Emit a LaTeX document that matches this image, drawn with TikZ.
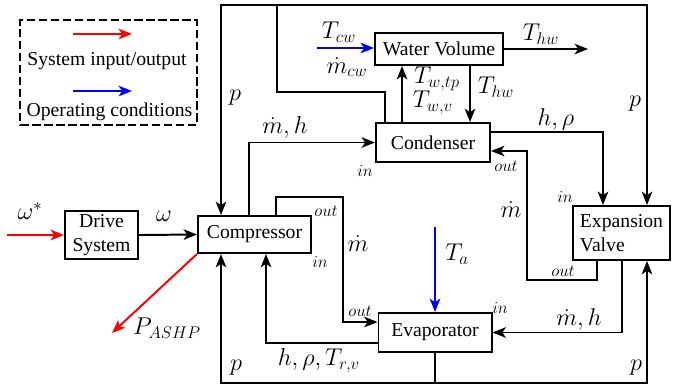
\documentclass[tikz,border=0pt]{standalone}
\usepackage{fontspec}
\setmainfont{Liberation Serif}
\usetikzlibrary{arrows.meta,positioning,calc}

\begin{document}
\begin{tikzpicture}[
  x=0.025cm, y=-0.025cm,
  every node/.style={font=\fontsize{14}{17}\selectfont},
  blockbox/.style={draw,line width=1.4pt,inner sep=0pt,align=center},
  conn/.style={-{Stealth[length=9.5pt,width=7.5pt,inset=2.5pt]},line width=1.4pt},
  wire/.style={line width=1.4pt},
  sysarr/.style={conn,red},
  oparr/.style={conn,blue},
  sig/.style={font=\fontsize{17.28}{20}\selectfont},
  port/.style={font=\fontsize{12}{14}\selectfont},
]
  \useasboundingbox (0,0) rectangle (675,389);

  % Legend
  \node[draw,line width=1.4pt,dash pattern=on 6pt off 2.5pt,
        minimum width=4.4cm,minimum height=2.625cm] (legend) at (108.5,72.5) {};
  \coordinate (lgred) at (73,34);
  \coordinate (lgblue) at (73,91);
  \draw[sysarr] (lgred) -- ++(59,0);
  \draw[oparr] (lgblue) -- ++(59,0);
  \node (lgsys) at (107,61) {System input/output};
  \node (lgop) at (109.5,112) {Operating conditions};

  % Blocks
  \node[blockbox,minimum width=1.825cm,minimum height=1.2cm] (drive) at (101.5,235) {Drive\\System};
  \node[blockbox,minimum width=2.825cm,minimum height=0.925cm] (comp) at (254.5,234.5) {Compressor};
  \node[blockbox,minimum width=3.2cm,minimum height=0.8cm] (wv) at (439,49) {Water Volume};
  \node[blockbox,minimum width=2.85cm,minimum height=0.975cm] (cond) at (433,142.5) {Condenser};
  \node[blockbox,minimum width=2.825cm,minimum height=0.975cm] (ev) at (435,332.5) {Evaporator};
  \node[blockbox,align=left,minimum width=2.425cm,minimum height=1.35cm] (valve) at (621.5,233) {Expansion\\Valve};

  % Drive and power
  \coordinate (wref) at (7,235);
  \draw[sysarr] (wref) -- (drive.west);
  \node[sig] (wstar) at (30,211) {$\omega^{*}$};
  \draw[conn] (drive.east) -- (comp.west);
  \node[sig] (wlbl) at (164,216) {$\omega$};
  \coordinate (pout) at (112,333);
  \draw[sysarr] (comp.south west) -- (pout);
  \node[sig] (plbl) at (167,328) {$P_{ASHP}$};

  % Pressure feedback, top
  \coordinate (ptop) at (277,5);
  \draw[wire] ($(cond.north west)+(10,0)$) -- ++(0,-30) -| (ptop);
  \draw[conn] (ptop) -| ($(comp.north west)+(24,0)$);
  \draw[conn] (ptop) -| ($(valve.north west)+(75,0)$);
  \node[sig] (ptl) at (235,98) {$p$};
  \node[sig] (ptr) at (635,104) {$p$};

  % Compressor to condenser
  \draw[conn] ($(comp.north west)+(52,0)$) |- (cond.west);
  \node[sig] (mhtop) at (285,127) {$\dot{m},h$};

  % Water side
  \coordinate (tcw) at (317,48);
  \draw[oparr] (tcw) -- (tcw -| wv.west);
  \node[sig] (tcwl) at (339,32) {$T_{cw}$};
  \node[sig] (mcwl) at (347,67) {$\dot{m}_{cw}$};
  \draw[conn] ($(cond.north west)+(27,0)$) coordinate (tw) -- (tw |- wv.south);
  \node[sig] (twtp) at (437,79) {$T_{w,tp}$};
  \node[sig] (twv) at (433,103) {$T_{w,v}$};
  \draw[conn] ($(wv.south west)+(96,0)$) coordinate (thw) -- (thw |- cond.north);
  \node[sig] (thwd) at (496,87) {$T_{hw}$};
  \coordinate (thwout) at (588,49);
  \draw[conn] (wv.east) -- (thwout);
  \node[sig] (thwo) at (541,34) {$T_{hw}$};

  % Condenser to valve and back
  \draw[conn] ($(cond.north east)+(0,10)$) -| ($(valve.north west)+(31,0)$);
  \node[sig] (hrho) at (556,119) {$h,\rho$};
  \draw[conn] ($(valve.south west)+(25,0)$) |- (527,280) |- ($(cond.south east)+(0,-12)$);
  \node[sig] (mdr) at (511,210) {$\dot{m}$};

  % Compressor to evaporator
  \draw[conn] ($(comp.north west)+(79,0)$) |- (343,197) |- ($(ev.north west)+(0,10)$);
  \node[sig] (mdm) at (358,244) {$\dot{m}$};
  \coordinate (ta) at (435,227);
  \draw[oparr] (ta) -- (ta |- ev.north);
  \node[sig] (tal) at (457,254) {$T_a$};
  \draw[conn] ($(valve.south west)+(50,0)$) |- (ev.east);
  \node[sig] (mhbot) at (579,319) {$\dot{m},h$};
  \draw[conn] ($(ev.south west)+(0,-10)$) -| ($(comp.south west)+(69,0)$);
  \node[sig] (hrt) at (319,361) {$h,\rho,T_{r,v}$};

  % Pressure feedback, bottom
  \path (ev.south) ++(0,30) coordinate (pbot);
  \draw[wire] (ev.south) -- (pbot);
  \draw[conn] (pbot) -| ($(comp.south west)+(24,0)$);
  \draw[conn] (pbot) -| ($(valve.south west)+(75,0)$);
  \node[sig] (pbl) at (236,368) {$p$};
  \node[sig] (pbr) at (636,368) {$p$};

  % Ports
  \node[port] (cin) at (365,171) {$in$};
  \node[port] (cout) at (506,166) {$out$};
  \node[port] (vin) at (565,197) {$in$};
  \node[port] (vout) at (563,271) {$out$};
  \node[port] (kout) at (326,211) {$out$};
  \node[port] (kin) at (320,262) {$in$};
  \node[port] (eout) at (360,311) {$out$};
  \node[port] (ein) at (500,308) {$in$};
\end{tikzpicture}
\end{document}
